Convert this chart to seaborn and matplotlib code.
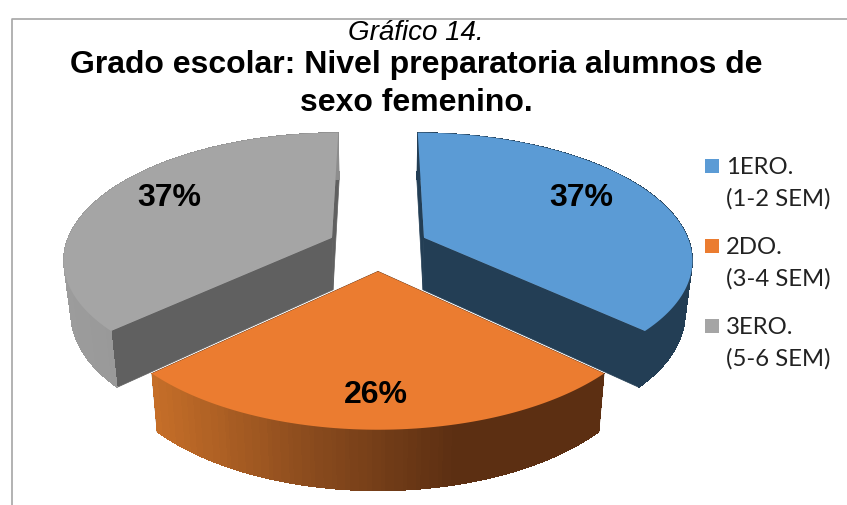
#!/usr/bin/env python3
"""Exploded 3D-look pie: school grade, female high school students."""
import numpy as np
import matplotlib
matplotlib.use("Agg")
import matplotlib.pyplot as plt
from matplotlib.collections import PolyCollection
import seaborn as sns

VALUES = [37, 26, 37]
NAMES = ["1ERO.", "2DO.", "3ERO."]
RANGES = ["(1-2 SEM)", "(3-4 SEM)", "(5-6 SEM)"]
TITLE_TOP = "Gráfico 14."
TITLE_MAIN = ["Grado escolar: Nivel preparatoria alumnos de", "sexo femenino."]

TOP_COLORS = ["#5B9BD5", "#EB7C30", "#A5A5A5"]
CUT_COLORS = ["#233E55", "#5C2F12", "#606060"]
RIM_STOPS = [
    ["#233E55", "#233E55"],
    ["#C56E28", "#8C4C1E", "#5C2F12", "#5C2F12"],
    ["#9C9C9C", "#8C8C8C"],
]

# projection fitted to the picture
CX, CY = 378, 247
RX, RY = 267, 124.5
PERSP = 0.159
EXPLODE = 0.19


def project(x, y):
    s = 1 / (1 - PERSP * y)
    return CX + RX * x * s, CY + RY * y * s


def drop(px, py):
    # bottom edge of the slab, slightly pulled to the vanishing point
    return CX + (px - CX) * 0.977, py + 52 + 0.047 * (py - 238)


def draw_slice(ax, start, end, top, cut, stops):
    mid = (start + end) / 2
    ox, oy = EXPLODE * np.sin(mid), -EXPLODE * np.cos(mid)
    th = np.linspace(start, end, 120)
    px, py = project(ox + np.sin(th), oy - np.cos(th))
    ax_, ay_ = project(ox, oy)
    bx, by = drop(px, py)
    abx, aby = drop(ax_, ay_)

    for i in (0, -1):
        ax.fill([ax_, px[i], bx[i], abx], [ay_, py[i], by[i], aby], color=cut, lw=0.5, zorder=2)

    pal = sns.blend_palette(stops, 64)
    t = (px - px.min()) / (px.max() - px.min())
    quads = [[(px[i], py[i]), (px[i + 1], py[i + 1]), (bx[i + 1], by[i + 1]), (bx[i], by[i])] for i in range(len(th) - 1)]
    cols = [pal[int(v * 63)] for v in t[:-1]]
    ax.add_collection(PolyCollection(quads, facecolors=cols, edgecolors=cols, linewidths=0, antialiaseds=False, zorder=3))

    ax.fill(np.r_[ax_, px], np.r_[ay_, py], color=top, lw=0, zorder=4)


sns.set_theme(style="white")
plt.rcParams["font.family"] = ["Liberation Sans", "DejaVu Sans"]

fig = plt.figure(figsize=(8.47, 5.05), dpi=100)
ax = fig.add_axes([0, 0, 1, 1])
ax.set_xlim(0, 847)
ax.set_ylim(505, 0)
ax.axis("off")

ax.plot([12, 12, 847], [505, 19, 19], color="#A6A6A6", lw=1.2, zorder=1)

edges = np.r_[0, np.cumsum(VALUES)] / sum(VALUES) * 2 * np.pi
# blue and gray go behind the orange front slice
for i in (0, 2, 1):
    draw_slice(ax, edges[i], edges[i + 1], TOP_COLORS[i], CUT_COLORS[i], RIM_STOPS[i])

label_xy = [(581, 198), (376, 395), (169, 198)]
for v, (x, y) in zip(VALUES, label_xy):
    ax.text(x, y, f"{v}%", ha="center", va="center", fontsize=23, fontweight="bold", color="black", zorder=6)

ax.text(416, 33, TITLE_TOP, ha="center", va="center", fontsize=20, style="italic", color="black")
ax.text(416, 65, TITLE_MAIN[0], ha="center", va="center", fontsize=23, fontweight="bold", color="black")
ax.text(416, 103, TITLE_MAIN[1], ha="center", va="center", fontsize=23, fontweight="bold", color="black")

for i, (name, rng) in enumerate(zip(NAMES, RANGES)):
    y = 167 + 80 * i
    ax.scatter([711.5], [y - 1], marker="s", s=115, color=TOP_COLORS[i], linewidths=0, zorder=5)
    ax.text(726, y, name, ha="left", va="center", fontsize=17.2, family=["Lato", "DejaVu Sans"], color="#222222")
    ax.text(726, y + 32, rng, ha="left", va="center", fontsize=17.2, family=["Lato", "DejaVu Sans"], color="#222222")

fig.savefig("out.png", dpi=100, facecolor="white")
